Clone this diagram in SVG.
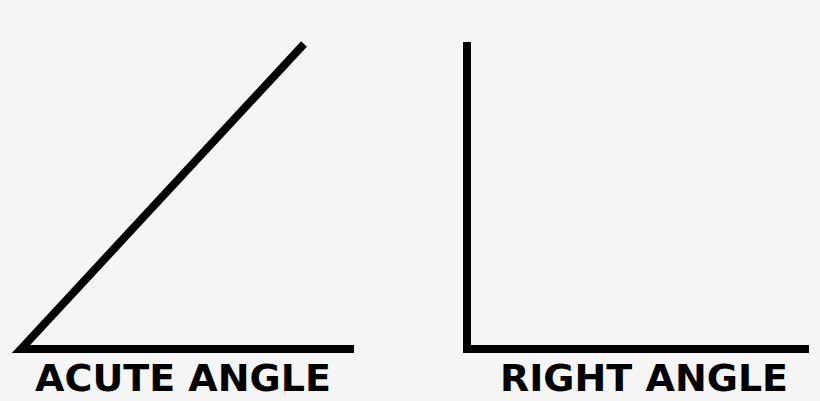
<svg xmlns="http://www.w3.org/2000/svg" width="820" height="401" viewBox="0 0 820 401">
<style>
.ln{fill:none;stroke:#000;stroke-width:8;stroke-linejoin:miter;stroke-linecap:butt}
.lb{font-family:"DejaVu Sans",sans-serif;font-weight:bold;font-size:38px;fill:#000;text-anchor:middle}
</style>
<rect width="820" height="401" fill="#f5f5f5"/>
<g id="acute">
<path class="ln" d="M304,44 L21,349 L354,349"/>
<text class="lb" x="183" y="391">ACUTE ANGLE</text>
</g>
<g id="right">
<path class="ln" d="M467,42 L467,349 L809,349"/>
<text class="lb" x="644" y="391">RIGHT ANGLE</text>
</g>
</svg>
